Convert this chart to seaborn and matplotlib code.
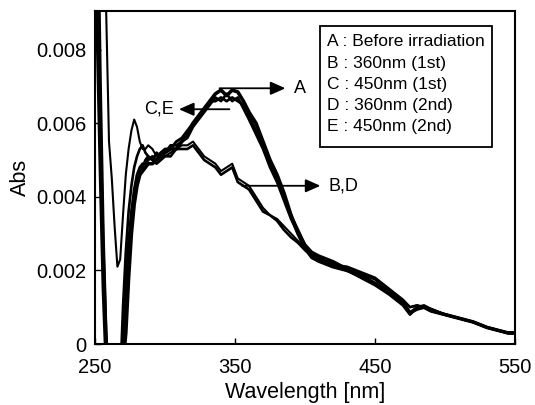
import numpy as np
import pandas as pd
import matplotlib
matplotlib.use("Agg")
import matplotlib.pyplot as plt
from matplotlib.patches import Rectangle
import seaborn as sns

# --- data (Abs values in units of 1e-3) ---
wavelength = [250, 252, 254, 256, 258, 260, 262, 264, 266, 268,
              270, 272, 274, 276, 278, 280, 282, 284, 286, 288,
              291, 294, 297, 300, 304, 308, 312, 316, 320, 324,
              328, 332, 336, 340, 344, 348, 352, 356, 360, 365,
              370, 375, 380, 385, 390, 395, 400, 405, 410, 420,
              430, 440, 450, 460, 470, 475, 480, 485, 490, 500,
              510, 520, 530, 540, 545, 550]

abs_a = [14, 8.0, 4.5, 1.5, -0.5, -1, -1, -1, -1, -1,
         -0.5, 0.3, 1.8, 3.0, 3.8, 4.3, 4.6, 4.7, 4.8, 4.9,
         4.9, 5.0, 5.1, 5.2, 5.3, 5.3, 5.5, 5.7, 6.0, 6.2,
         6.4, 6.6, 6.8, 6.9, 6.75, 6.9, 6.85, 6.6, 6.3, 6.0,
         5.5, 5.0, 4.6, 4.1, 3.5, 3.0, 2.6, 2.35, 2.25, 2.1,
         2.0, 1.85, 1.65, 1.4, 1.1, 0.85, 0.95, 1.0, 0.9, 0.8,
         0.7, 0.6, 0.45, 0.35, 0.3, 0.3]

abs_b = [40, 30, 20, 14, 9.0, 5.5, 4.5, 3.2, 2.1, 2.3,
         3.5, 4.6, 5.3, 5.8, 6.1, 5.9, 5.5, 5.3, 5.3, 5.4,
         5.3, 5.1, 5.2, 5.1, 5.2, 5.3, 5.4, 5.4, 5.5, 5.3,
         5.1, 5.0, 4.9, 4.7, 4.8, 4.9, 4.5, 4.4, 4.3, 4.0,
         3.7, 3.5, 3.4, 3.2, 3.0, 2.8, 2.6, 2.45, 2.3, 2.1,
         2.05, 1.9, 1.75, 1.45, 1.15, 1.0, 1.05, 1.0, 0.95, 0.8,
         0.7, 0.6, 0.45, 0.35, 0.3, 0.3]

abs_c = [20, 10, 5.5, 2.5, 0.2, -1, -1, -1, -1, -1,
         0.2, 1.5, 2.8, 3.6, 4.2, 4.6, 4.8, 4.9, 4.9, 5.0,
         5.1, 5.0, 5.2, 5.3, 5.3, 5.5, 5.6, 5.8, 6.0, 6.2,
         6.4, 6.6, 6.6, 6.7, 6.6, 6.7, 6.6, 6.5, 6.2, 5.8,
         5.4, 4.9, 4.5, 4.0, 3.5, 3.1, 2.7, 2.45, 2.35, 2.2,
         2.0, 1.8, 1.6, 1.35, 1.05, 0.8, 1.0, 1.0, 0.9, 0.8,
         0.7, 0.6, 0.45, 0.35, 0.3, 0.3]

abs_d = [25, 12, 7.0, 3.0, 0.3, -1, -1, -1, -1, -1,
         1.0, 2.5, 3.6, 4.3, 4.8, 5.1, 5.3, 5.4, 5.2, 5.1,
         5.0, 4.9, 5.0, 5.1, 5.1, 5.3, 5.3, 5.3, 5.4, 5.2,
         5.0, 4.9, 4.8, 4.6, 4.7, 4.8, 4.4, 4.3, 4.2, 3.9,
         3.6, 3.5, 3.35, 3.1, 2.9, 2.75, 2.55, 2.4, 2.3, 2.15,
         2.1, 1.95, 1.8, 1.5, 1.2, 1.0, 1.05, 1.0, 0.95, 0.8,
         0.7, 0.6, 0.45, 0.35, 0.3, 0.3]

abs_e = [18, 9.0, 5.0, 2.0, 0.0, -1, -1, -1, -1, -1,
         0.0, 1.2, 2.5, 3.4, 4.0, 4.5, 4.7, 4.8, 5.0, 5.1,
         5.0, 5.2, 5.1, 5.2, 5.4, 5.4, 5.5, 5.6, 5.9, 6.1,
         6.3, 6.5, 6.7, 6.6, 6.8, 6.6, 6.7, 6.4, 6.1, 5.7,
         5.3, 4.8, 4.4, 3.9, 3.4, 3.0, 2.7, 2.5, 2.4, 2.25,
         2.05, 1.85, 1.65, 1.4, 1.1, 0.85, 1.0, 1.05, 0.95, 0.8,
         0.7, 0.6, 0.45, 0.35, 0.3, 0.3]

series = {"A": abs_a, "B": abs_b, "C": abs_c, "D": abs_d, "E": abs_e}
widths = {"A": 2.6, "B": 1.5, "C": 2.0, "D": 1.9, "E": 1.9}

legend_lines = ["A : Before irradiation", "B : 360nm (1st)", "C : 450nm (1st)",
                "D : 360nm (2nd)", "E : 450nm (2nd)"]

rows = []
for name, vals in series.items():
    for w, v in zip(wavelength, vals):
        rows.append({"wavelength": w, "abs": v * 1e-3, "sample": name})
df = pd.DataFrame(rows)

sns.set_style("ticks")
plt.rcParams["font.family"] = ["Liberation Sans", "DejaVu Sans"]
plt.rcParams["text.color"] = "black"
plt.rcParams["axes.labelcolor"] = "black"

fig = plt.figure(figsize=(5.35, 4.05), dpi=100)
ax = fig.add_axes([95 / 535, 61 / 405, 420 / 535, 333 / 405])

for name in series:
    sns.lineplot(data=df[df["sample"] == name], x="wavelength", y="abs",
                 color="black", lw=widths[name], ax=ax)

ax.set_xlim(250, 550)
ax.set_ylim(0, 0.00905)
ax.set_xticks([250, 350, 450, 550])
ax.set_yticks([0, 0.002, 0.004, 0.006, 0.008])
ax.set_yticklabels(["0", "0.002", "0.004", "0.006", "0.008"])
ax.tick_params(direction="in", length=4, width=1, labelsize=14.5, colors="black")
ax.tick_params(axis="x", pad=10)
ax.tick_params(axis="y", pad=6)
for sp in ax.spines.values():
    sp.set_visible(True)
    sp.set_linewidth(1.5)
    sp.set_color("black")
ax.set_xlabel("Wavelength [nm]", fontsize=15.5, labelpad=4)
ax.set_ylabel("Abs", fontsize=15.5, labelpad=4)

# arrows
arrow_kw = dict(arrowstyle="-|>,head_length=0.9,head_width=0.4", color="black", lw=1.3)
ax.annotate("", xy=(308, 0.00638), xytext=(348, 0.00638), arrowprops=arrow_kw)
ax.text(306, 0.00638, "C,E", fontsize=13, ha="right", va="center")
ax.annotate("", xy=(388, 0.00695), xytext=(337, 0.00695), arrowprops=arrow_kw)
ax.text(392, 0.00695, "A", fontsize=13, ha="left", va="center")
ax.annotate("", xy=(413, 0.00430), xytext=(353, 0.00430), arrowprops=arrow_kw)
ax.text(417, 0.00430, "B,D", fontsize=13, ha="left", va="center")

# legend box
fig.add_artist(Rectangle((320 / 535, 1 - 147 / 405), 172 / 535, 121 / 405,
                         transform=fig.transFigure, fill=False, ec="black", lw=1.3))
for i, line in enumerate(legend_lines):
    fig.text(327 / 535, 1 - (42 + i * 21.2) / 405, line, fontsize=12.5,
             ha="left", va="center")

fig.savefig("out.png", dpi=100)
